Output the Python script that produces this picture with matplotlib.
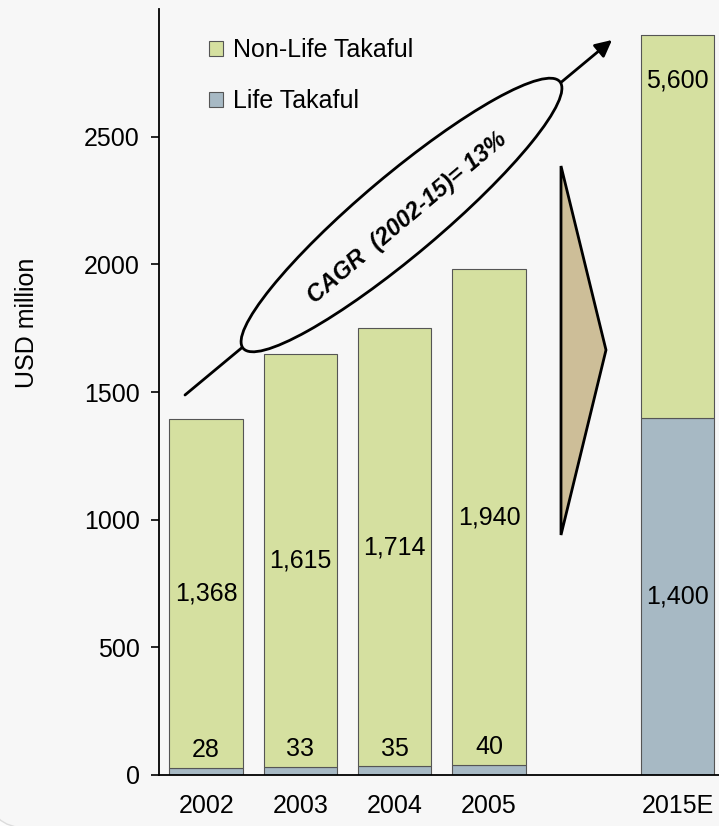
import matplotlib
matplotlib.use('Agg')
import matplotlib.pyplot as plt
import numpy as np
from matplotlib.patches import Ellipse, Polygon, Patch, FancyBboxPatch, Rectangle
from matplotlib.transforms import IdentityTransform

plt.rcParams['font.family'] = ['Liberation Sans', 'DejaVu Sans']

years = ['2002', '2003', '2004', '2005', '2015E']
life = [28, 33, 35, 40, 1400]
non_life = [1368, 1615, 1714, 1940, 5600]
y_ticks = [0, 500, 1000, 1500, 2000, 2500]
cagr_text = 'CAGR  (2002-15)= 13%'

green = '#d5e0a0'
blue = '#a7b9c4'
tan = '#cdbe98'
edge = '#555555'
fs = 18

W, H = 719, 826
fig = plt.figure(figsize=(W / 100, H / 100), dpi=100)
fig.patch.set_facecolor('#fcfcfc')

# helper: image pixels (y down) -> display pixels (y up)
def px(x, y):
    return (x, H - y)

# rounded panel behind everything
panel = FancyBboxPatch((-12, -2), 800, 900, boxstyle='round,pad=0,rounding_size=40',
                       transform=IdentityTransform(), fc='#f7f7f7', ec='#dcdcdc',
                       lw=1, zorder=-10)
fig.add_artist(panel)

ax = fig.add_axes([159 / W, 51 / H, 560 / W, 766 / H])
ax.set_facecolor('none')

x = np.array([0, 1, 2, 3, 5])
width = 0.78
bars_life = ax.bar(x, life, width, color=blue, edgecolor=edge, lw=0.8, zorder=2)
bars_non = ax.bar(x, non_life, width, bottom=life, color=green, edgecolor=edge,
                  lw=0.8, zorder=2)

# the 2015E bar is drawn on a broken scale: cut it off below the top of the axis
break_at = 2900
clip = Rectangle((-1, -100), 10, break_at + 100, transform=ax.transData)
bars_non[-1].set_clip_path(clip)
ax.plot([x[-1] - width / 2, x[-1] + width / 2], [break_at, break_at],
        color=edge, lw=0.8, zorder=3, solid_capstyle='butt')

# value labels
for xi, lo, hi in zip(x[:-1], life[:-1], non_life[:-1]):
    ax.text(xi, lo + hi / 2, f'{hi:,}', ha='center', va='center', fontsize=fs, zorder=4)
    ax.annotate(f'{lo:,}', (xi, lo), xytext=(0, 4), textcoords='offset points',
                ha='center', va='bottom', fontsize=fs, zorder=4)
ax.text(x[-1], life[-1] / 2, f'{life[-1]:,}', ha='center', va='center', fontsize=fs, zorder=4)
ax.text(x[-1], break_at - 180, f'{non_life[-1]:,}', ha='center', va='center',
        fontsize=fs, zorder=4)

ax.set_xlim(-0.5, 5.44)
ax.set_ylim(0, 3000)
ax.set_xticks(x)
ax.set_xticklabels(years, fontsize=fs)
ax.set_yticks(y_ticks)
ax.set_yticklabels([str(t) for t in y_ticks], fontsize=fs)
ax.tick_params(axis='x', length=0, pad=14)
ax.tick_params(axis='y', length=6, width=1.2, pad=8, direction='out')
for s in ['top', 'right']:
    ax.spines[s].set_visible(False)
for s in ['left', 'bottom']:
    ax.spines[s].set_linewidth(1.3)
    ax.spines[s].set_color('black')

ax.set_ylabel('USD million', fontsize=fs)
ax.yaxis.set_label_coords(-0.215, 0.59)

handles = [Patch(fc=green, ec=edge, lw=0.8), Patch(fc=blue, ec=edge, lw=0.8)]
fig.legend(handles, ['Non-Life Takaful', 'Life Takaful'], loc='upper left',
           bbox_to_anchor=(209 / W, (H - 38) / H), frameon=False, fontsize=fs,
           handlelength=0.55, handleheight=0.55, handletextpad=0.4, labelspacing=1.1,
           borderpad=0, borderaxespad=0)

# growth arrow with the CAGR ellipse
ax.annotate('', xy=px(612, 40), xytext=px(185, 395), xycoords='figure pixels',
            textcoords='figure pixels',
            arrowprops=dict(arrowstyle='-|>', color='black', lw=2, mutation_scale=25,
                            shrinkA=0, shrinkB=0), zorder=5)
ell = Ellipse(px(401.5, 215), 414, 80, angle=40.1, transform=IdentityTransform(),
              fc='#f7f7f7', ec='black', lw=2, zorder=6)
fig.add_artist(ell)
fig.text(407 / W, (H - 218) / H, cagr_text, rotation=40.1, rotation_mode='anchor',
         ha='center', va='center', fontsize=17, fontweight='bold', fontstyle='italic',
         zorder=7)

# chevron pointing to the 2015 estimate
chev = Polygon([px(561, 166), px(606, 350), px(561, 535)], closed=True,
               transform=IdentityTransform(), fc=tan, ec='black', lw=2, zorder=5)
fig.add_artist(chev)

fig.savefig('out.png', dpi=100, facecolor=fig.get_facecolor())
